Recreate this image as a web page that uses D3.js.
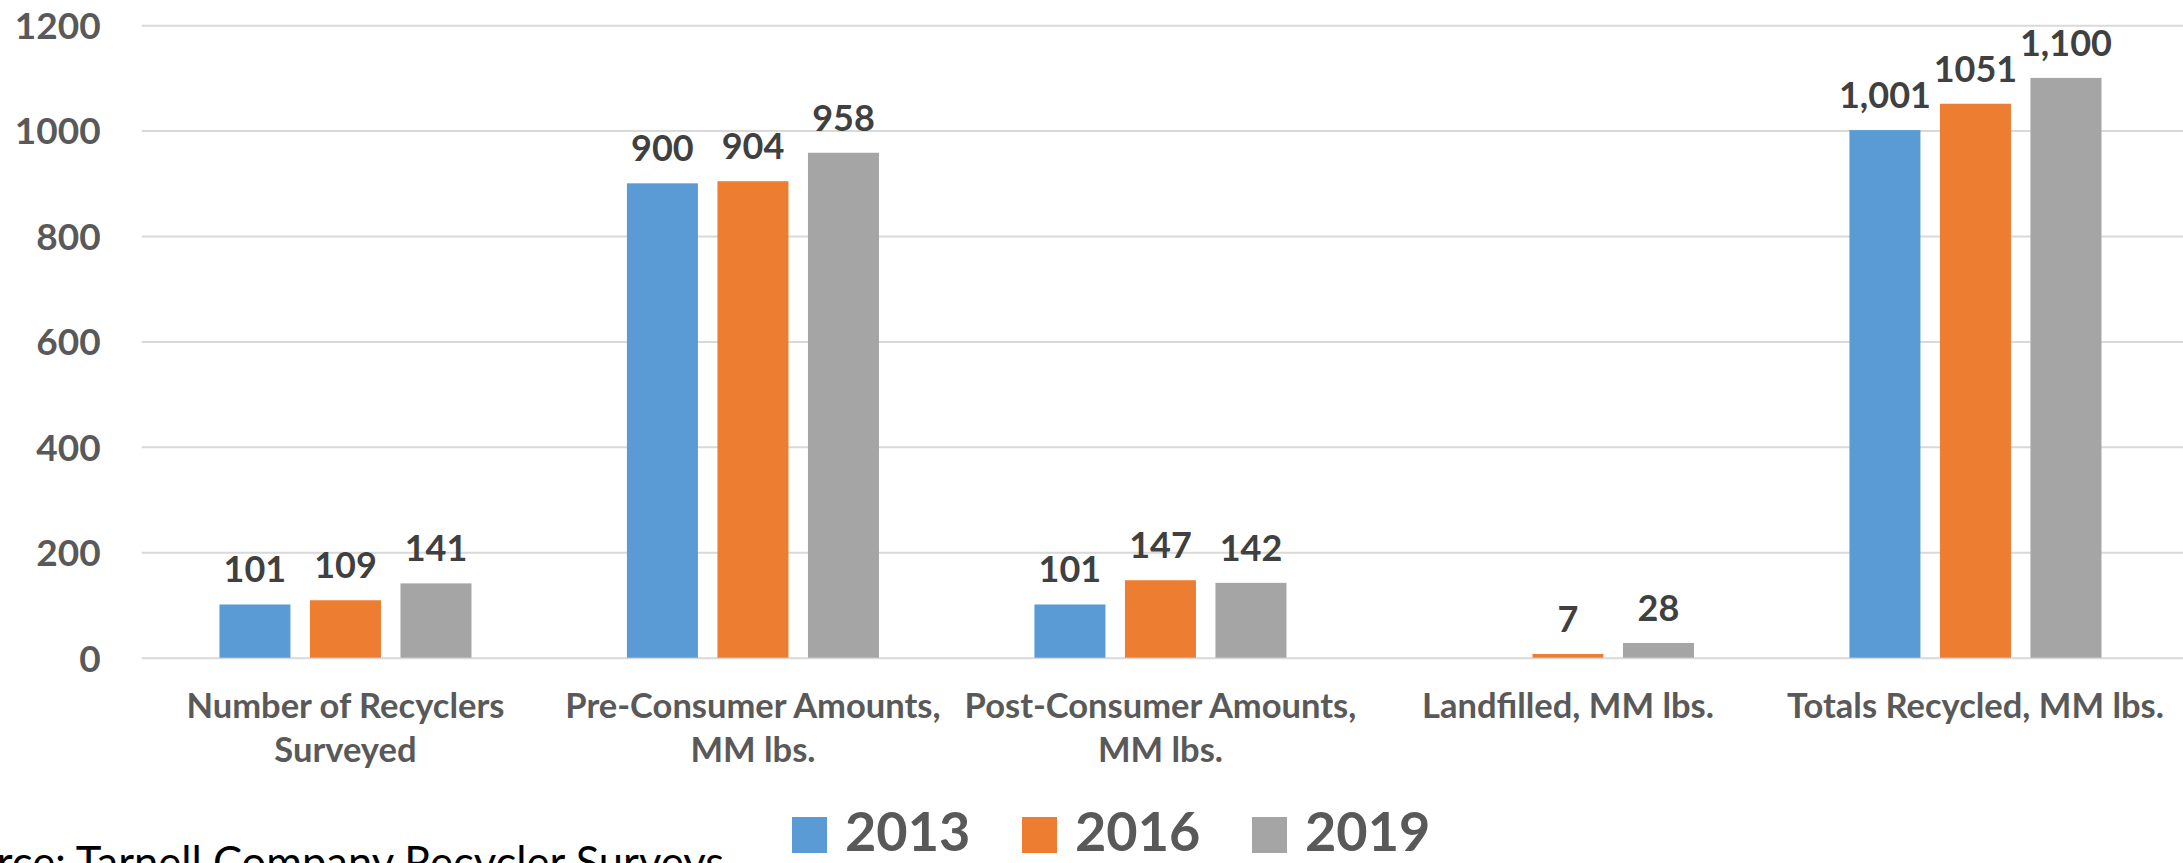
<!DOCTYPE html>
<html><head><meta charset="utf-8">
<script src="https://cdn.jsdelivr.net/npm/d3@7"></script>
<style>html,body{margin:0;padding:0;background:#fff;overflow:hidden}</style>
</head><body>
<svg id="c" width="2183" height="863"></svg>
<script>
const categories = [
  ["Number of Recyclers", "Surveyed"],
  ["Pre-Consumer Amounts,", "MM lbs."],
  ["Post-Consumer Amounts,", "MM lbs."],
  ["Landfilled, MM lbs."],
  ["Totals Recycled, MM lbs."]
];
const seriesNames = ["2013", "2016", "2019"];
const values2013 = [101, 900, 101, null, 1001];
const values2016 = [109, 904, 147, 7, 1051];
const values2019 = [141, 958, 142, 28, 1100];
const labels2013 = ["101", "900", "101", "", "1,001"];
const labels2016 = ["109", "904", "147", "7", "1051"];
const labels2019 = ["141", "958", "142", "28", "1,100"];
const yTicks = [0, 200, 400, 600, 800, 1000, 1200];
const colors = ["#5b9bd5", "#ed7d31", "#a5a5a5"];
const sourceText = "Source: Tarnell Company Recycler Surveys";

const seriesValues = [values2013, values2016, values2019];
const seriesLabels = [labels2013, labels2016, labels2019];

const svg = d3.select("#c");
const plotLeft = 141.7, plotRight = 2179.2, plotTop = 25.2, plotBottom = 657.7;

const x0 = d3.scaleBand().domain(d3.range(categories.length)).range([plotLeft, plotRight]).padding(0);
const x1 = d3.scaleBand().domain(seriesNames).range([0, x0.bandwidth()]).paddingInner(0.2155).paddingOuter(0.8588);
const y = d3.scaleLinear().domain([0, 1200]).range([plotBottom, plotTop]);

// grid + y axis
const yAxis = d3.axisLeft(y).tickValues(yTicks).tickSize(-(2183 - plotLeft)).tickPadding(41).tickFormat(d3.format("d"));
const gy = svg.append("g").attr("transform", `translate(${plotLeft},0)`).call(yAxis);
gy.select(".domain").remove();
gy.selectAll(".tick line").attr("stroke", "#d9d9d9").attr("stroke-width", 2);
gy.selectAll(".tick text")
  .attr("fill", "#595959").attr("font-family", "Lato, sans-serif")
  .attr("font-weight", "bold").attr("font-size", 37).attr("dy", "0.36em");

// bars
const rows = [];
categories.forEach((c, i) => seriesNames.forEach((s, j) => {
  rows.push({ci: i, s: s, j: j, v: seriesValues[j][i], lab: seriesLabels[j][i]});
}));

svg.append("g").selectAll("rect").data(rows.filter(d => d.v != null)).join("rect")
  .attr("x", d => x0(d.ci) + x1(d.s))
  .attr("y", d => y(d.v))
  .attr("width", x1.bandwidth())
  .attr("height", d => y(0) - y(d.v))
  .attr("fill", d => colors[d.j]);

// data labels
svg.append("g").selectAll("text").data(rows.filter(d => d.v != null && d.lab !== "")).join("text")
  .attr("x", d => x0(d.ci) + x1(d.s) + x1.bandwidth() / 2)
  .attr("y", d => y(d.v) - 22)
  .attr("text-anchor", "middle")
  .attr("fill", "#404040").attr("font-family", "Lato, sans-serif")
  .attr("font-weight", "bold").attr("font-size", 36)
  .text(d => d.lab);

// category labels
const gx = svg.append("g");
categories.forEach((lines, i) => {
  const t = gx.append("text")
    .attr("x", x0(i) + x0.bandwidth() / 2)
    .attr("y", 718)
    .attr("text-anchor", "middle")
    .attr("fill", "#595959").attr("font-family", "Lato, sans-serif")
    .attr("font-weight", "bold").attr("font-size", 34.5);
  lines.forEach((ln, k) => {
    t.append("tspan").attr("x", x0(i) + x0.bandwidth() / 2).attr("dy", k === 0 ? 0 : 44).text(ln);
  });
});

// legend
const legendX = d3.scaleOrdinal().domain(seriesNames).range([792, 1022, 1252]);
const lg = svg.append("g");
seriesNames.forEach((s, j) => {
  lg.append("rect").attr("x", legendX(s)).attr("y", 817).attr("width", 35).attr("height", 36).attr("fill", colors[j]);
  lg.append("text").attr("x", legendX(s) + 53).attr("y", 851)
    .attr("fill", "#595959").attr("font-family", "Lato, sans-serif")
    .attr("font-weight", "bold").attr("font-size", 54).text(s);
});

// source
svg.append("text").attr("x", 724).attr("y", 878).attr("text-anchor", "end")
  .attr("fill", "#000").attr("font-family", "Lato, sans-serif").attr("font-size", 43.5)
  .text(sourceText);
</script>
</body></html>
